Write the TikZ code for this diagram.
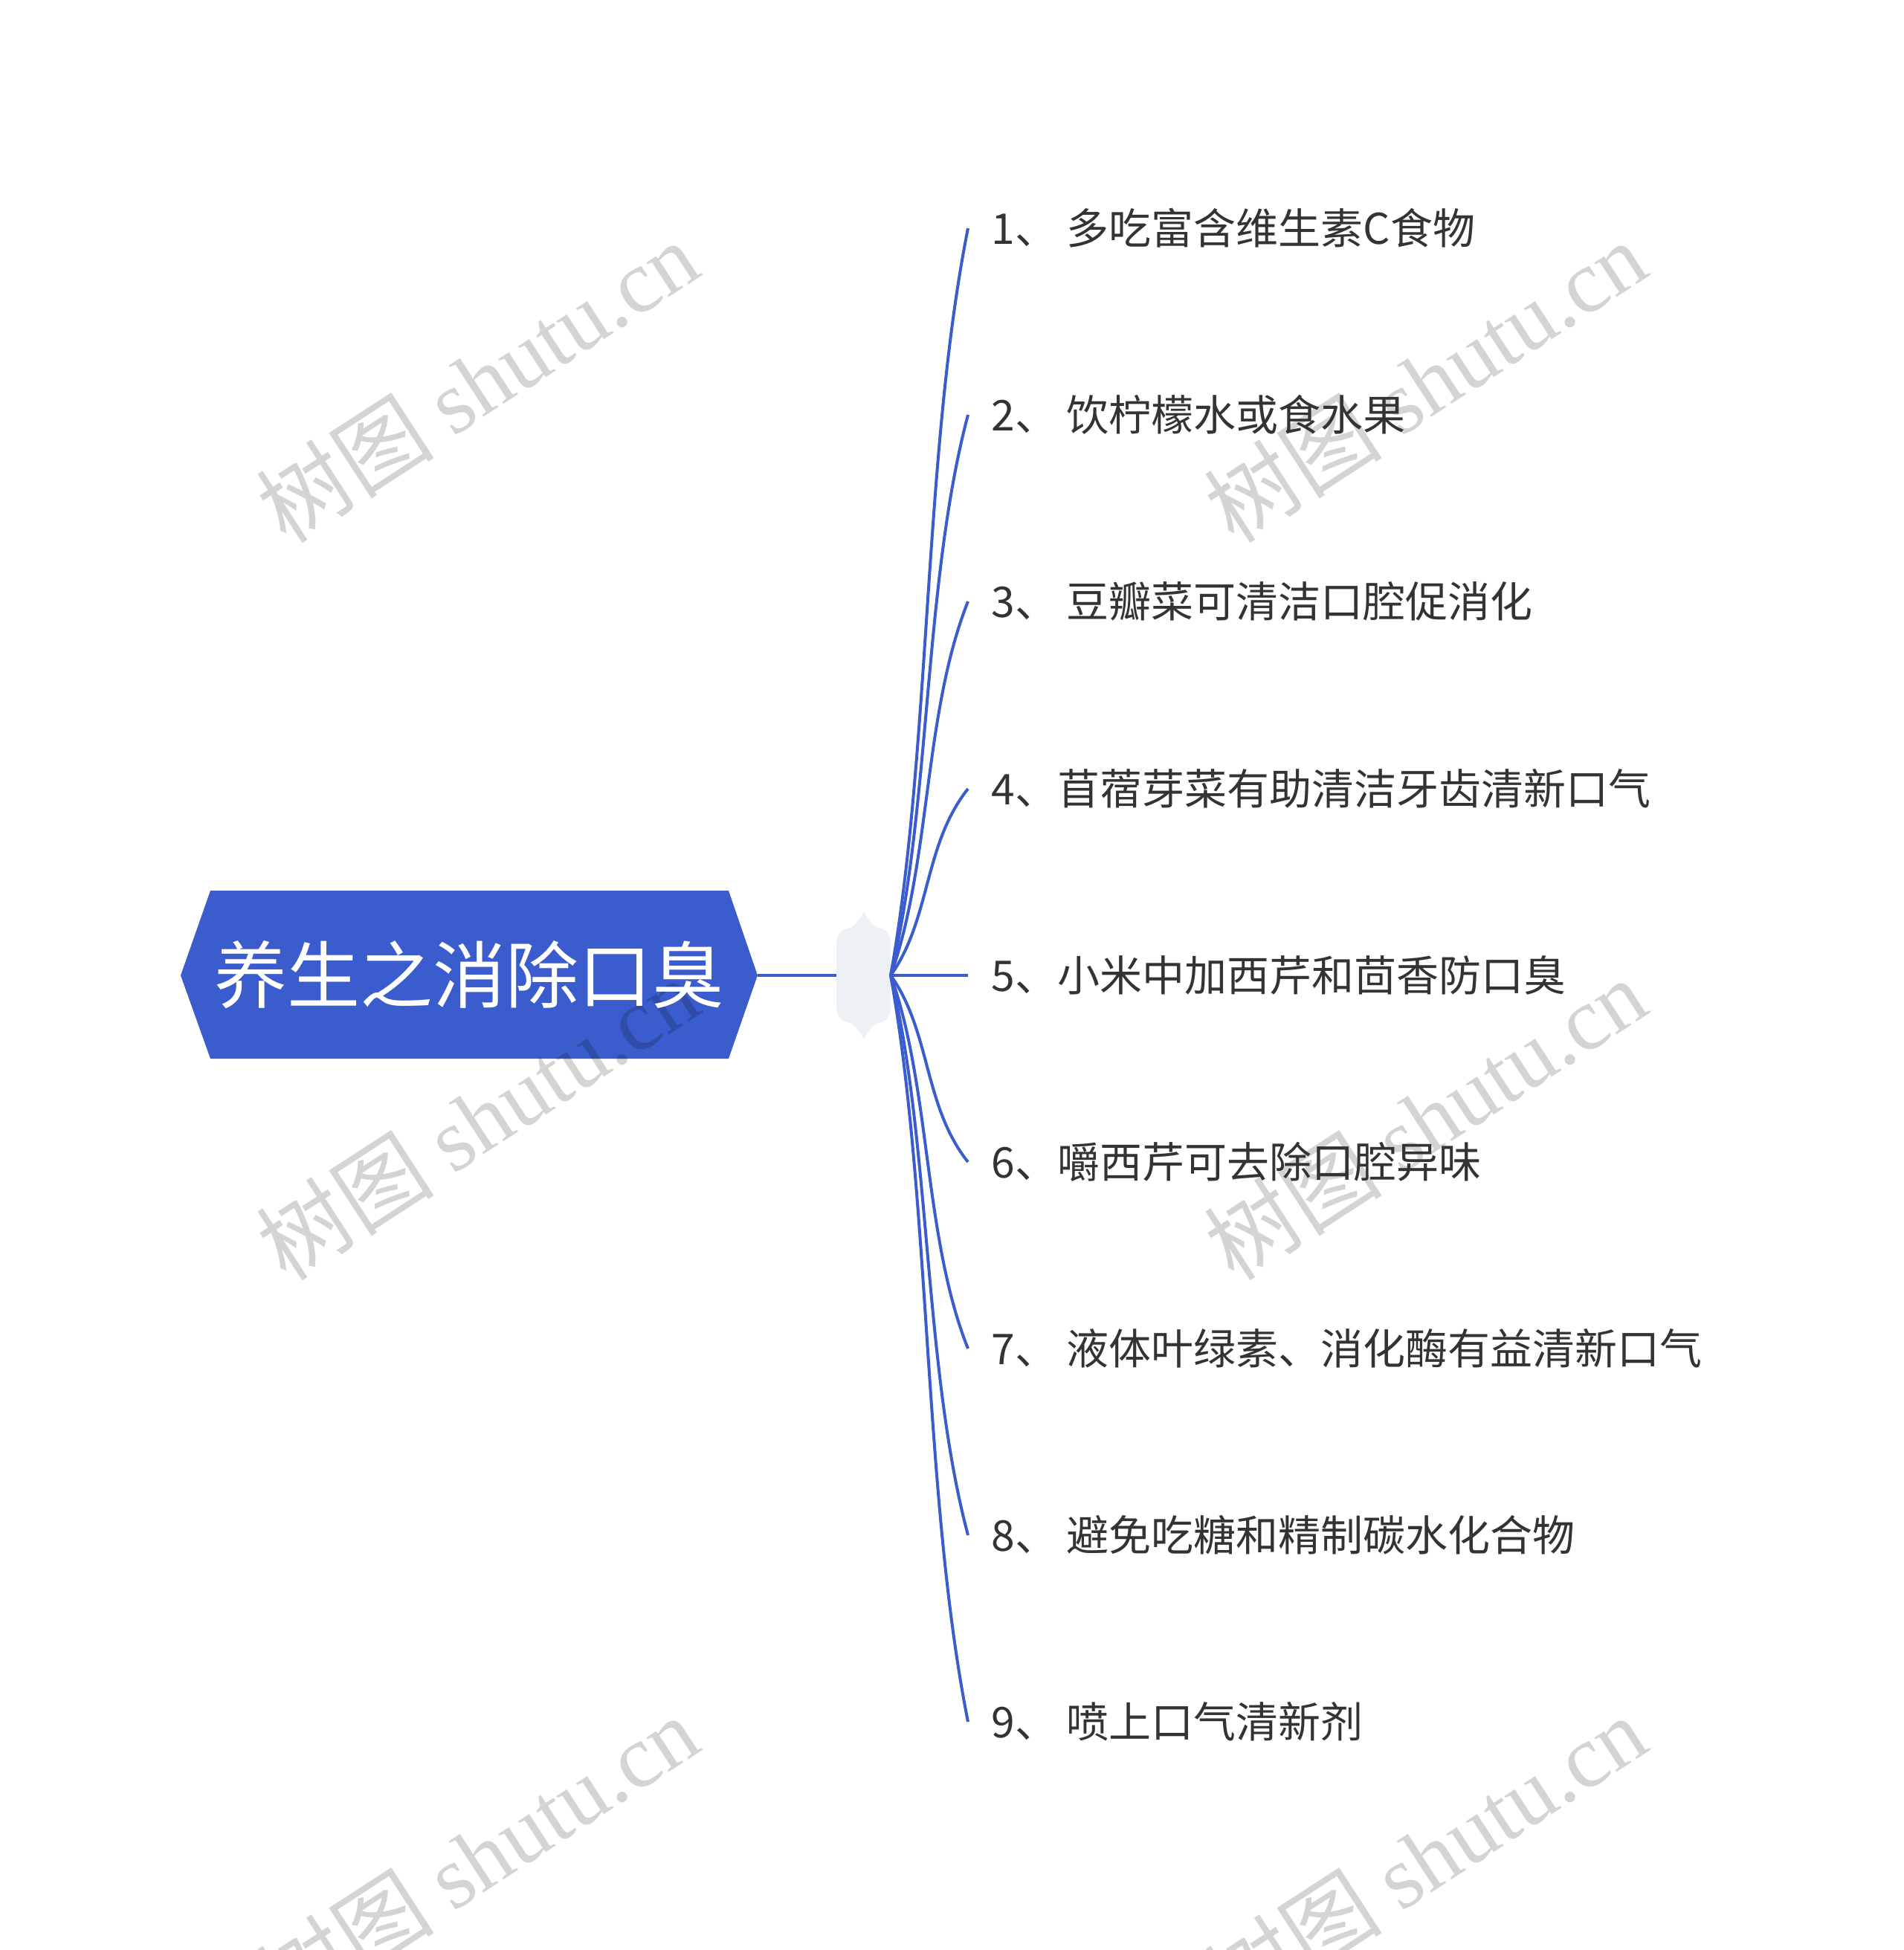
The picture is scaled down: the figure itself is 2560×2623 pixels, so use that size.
\documentclass[tikz,border=0pt]{standalone}
\usepackage{fontspec}
\setmainfont{Noto Sans CJK SC}
\newfontfamily\cjk{Noto Sans CJK SC}
\newfontfamily\wmserif{Liberation Serif}
\definecolor{rootblue}{HTML}{3A5CCC}
\definecolor{linkblue}{HTML}{3A5CCC}
\definecolor{hubfill}{HTML}{EDF0F4}
\definecolor{itemtext}{HTML}{333333}
\tikzset{
  itembox/.style={anchor=west, inner ysep=0pt, inner xsep=15.5pt, text=itemtext,
    font=\cjk\fontsize{28.5pt}{34pt}\selectfont},
  roottext/.style={inner sep=0pt, text=white, font=\cjk\fontsize{49pt}{58pt}\selectfont},
  link/.style={draw=linkblue, line width=2pt},
  wmark/.style={rotate=33, text=black, text opacity=0.17, inner sep=0pt,
    font=\fontsize{60pt}{66pt}\selectfont}
}
\begin{document}
\begin{tikzpicture}[x=0.5pt,y=-0.5pt]
\useasboundingbox (0,0) rectangle (2560,2623);
% root hexagon
\fill[rootblue] (243,1312) -- (283,1198) -- (980,1198) -- (1019,1312) -- (980,1424) -- (283,1424) -- cycle;
\coordinate (rootR) at (1019,1312);
\coordinate (hubL) at (1125,1312);
\coordinate (hub) at (1198,1312);
% hub shape
\fill[hubfill] (1125,1270) .. controls (1125,1255) and (1133,1249) .. (1143,1248)
  .. controls (1150,1246) and (1156,1236) .. (1162,1227)
  .. controls (1168,1236) and (1174,1246) .. (1181,1248)
  .. controls (1191,1249) and (1198,1255) .. (1198,1270) -- (1198,1354)
  .. controls (1198,1369) and (1191,1375) .. (1181,1376)
  .. controls (1174,1378) and (1168,1388) .. (1162,1397)
  .. controls (1156,1388) and (1150,1378) .. (1143,1376)
  .. controls (1133,1375) and (1125,1369) .. (1125,1354) -- cycle;
\draw[link] (rootR) -- (hubL);
% watermarks
\node[wmark] (wm1) at (642,513) {\cjk 树图\ \wmserif shutu.cn};
\node[wmark] (wm2) at (1917,513) {\cjk 树图\ \wmserif shutu.cn};
\node[wmark] (wm3) at (642,1505) {\cjk 树图\ \wmserif shutu.cn};
\node[wmark] (wm4) at (1917,1505) {\cjk 树图\ \wmserif shutu.cn};
\node[wmark] (wm5) at (642,2497) {\cjk 树图\ \wmserif shutu.cn};
\node[wmark] (wm6) at (1917,2497) {\cjk 树图\ \wmserif shutu.cn};
% root text
\node[roottext] (root) at (631,1311) {养生之消除口臭};
% items
\node[itembox] (i1) at (1302,307) {1、 多吃富含维生素C食物};
\node[itembox] (i2) at (1302,558) {2、 饮柠檬水或食水果};
\node[itembox] (i3) at (1302,809) {3、 豆瓣菜可清洁口腔促消化};
\node[itembox] (i4) at (1302,1061) {4、苜蓿芽菜有助清洁牙齿清新口气};
\node[itembox] (i5) at (1302,1312) {5、小米中加西芹和茴香防口臭};
\node[itembox] (i6) at (1302,1563) {6、嚼西芹可去除口腔异味};
\node[itembox] (i7) at (1302,1814) {7、 液体叶绿素、消化酶有益清新口气};
\node[itembox] (i8) at (1302,2065) {8、 避免吃糖和精制碳水化合物};
\node[itembox] (i9) at (1302,2316) {9、 喷上口气清新剂};
% connectors
\foreach \i/\y in {1/307,2/558,3/809,4/1061,6/1563,7/1814,8/2065,9/2316}{
  \draw[link] (hub) .. controls (1252,{1312+0.3*(\y-1312)}) and (1242,{1312+0.7*(\y-1312)}) .. (i\i.west);
}
\draw[link] (hub) -- (i5.west);
\end{tikzpicture}
\end{document}
